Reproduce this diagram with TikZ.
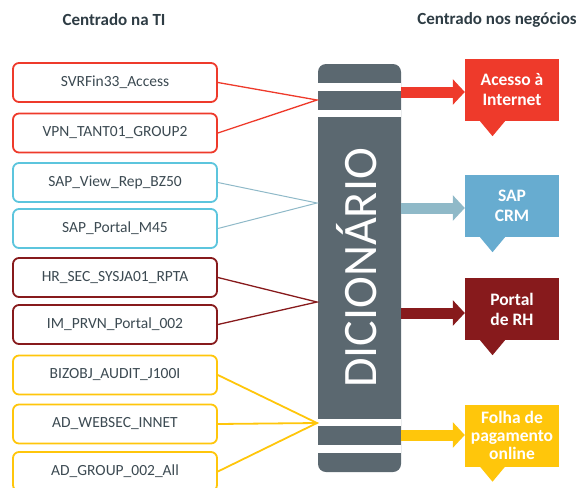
\documentclass[tikz,border=0pt]{standalone}
\usepackage{fontspec}
\setmainfont{Carlito}
\usetikzlibrary{calc,arrows.meta}
\definecolor{barcol}{HTML}{5B6870}
\definecolor{txtgray}{HTML}{3C4A52}
\definecolor{hdgray}{HTML}{2E3C44}
\definecolor{redc}{HTML}{EE3A2B}
\definecolor{cyanbox}{HTML}{5CC5DD}
\definecolor{cyanline}{HTML}{8FB9C8}
\definecolor{cyancall}{HTML}{67ACD0}
\definecolor{darkredc}{HTML}{871A1C}
\definecolor{yellowc}{HTML}{FFC60B}

\begin{document}
\begin{tikzpicture}[x=1pt,y=-1pt,
    tibox/.style={draw=#1, line width=1.8pt, rounded corners=6pt, fill=white,
      minimum width=204pt, minimum height=39pt, inner sep=0pt,
      text=txtgray, font=\fontsize{15.5}{17}\selectfont},
    bizbox/.style={fill=#1, text=white, minimum width=94pt, minimum height=62pt,
      inner sep=0pt, align=center, font=\bfseries\fontsize{17.5}{20}\selectfont},
    link/.style={draw=#1, line width=1.3pt},
    feed/.style={draw=#1, line width=11pt, -{Triangle[length=12pt,width=25pt]}},
    head/.style={font=\bfseries\fontsize{17}{19}\selectfont, text=hdgray}]
    \clip (0,0) rectangle (588,487);

    \node[head] (ti) at (114,20) {Centrado na TI};
    \node[head] (neg) at (497,20) {Centrado nos negócios};

    % dicionario
    \fill[barcol, rounded corners=8pt] (318,64) rectangle (401,472);
    \fill[white] (318,83) rectangle (401,91);
    \fill[white] (318,110) rectangle (401,117);
    \fill[white] (318,419) rectangle (401,426);
    \fill[white] (318,445) rectangle (401,453);
    \node[rotate=90, anchor=base, inner sep=0pt, text=white,
      font=\fontsize{48}{48}\selectfont] (dic) at (376,268) {DICIONÁRIO};

    \coordinate (inred) at (317,100);
    \coordinate (incyan) at (317,203);
    \coordinate (indark) at (317,302);
    \coordinate (inyel) at (317,423);
    \coordinate (outred) at (401,92);
    \coordinate (outcyan) at (401,208);
    \coordinate (outdark) at (401,313);
    \coordinate (outyel) at (401,435);

    % centrado na TI
    \node[tibox=redc] (svr) at (115,82.5) {SVRFin33\_Access};
    \node[tibox=redc] (vpn) at (115,133) {VPN\_TANT01\_GROUP2};
    \node[tibox=cyanbox] (sapview) at (115,182.5) {SAP\_View\_Rep\_BZ50};
    \node[tibox=cyanbox] (sapportal) at (115,228.5) {SAP\_Portal\_M45};
    \node[tibox=darkredc] (hrsec) at (115,277.5) {HR\_SEC\_SYSJA01\_RPTA};
    \node[tibox=darkredc] (imprvn) at (115,324.5) {IM\_PRVN\_Portal\_002};
    \node[tibox=yellowc] (bizobj) at (115,375) {BIZOBJ\_AUDIT\_J100I};
    \node[tibox=yellowc] (websec) at (115,424) {AD\_WEBSEC\_INNET};
    \node[tibox=yellowc] (adgroup) at (115,471.5) {AD\_GROUP\_002\_All};

    \draw[link=redc] (svr.east) -- (inred) -- (vpn.east);
    \draw[link=cyanline, line width=1pt] (sapview.east) -- (incyan) -- (sapportal.east);
    \draw[link=darkredc] (hrsec.east) -- (indark) -- (imprvn.east);
    \draw[link=yellowc, line width=1.8pt] (bizobj.east) -- (inyel) -- (adgroup.east);
    \draw[link=yellowc, line width=1.8pt] (websec.east) -- (inyel);

    % centrado nos negocios
    \node[bizbox=redc] (acesso) at (512,90) {Acesso à\\Internet};
    \node[bizbox=cyancall] (crm) at (512,206) {SAP\\CRM};
    \node[bizbox=darkredc] (rh) at (512,309) {Portal\\de RH};
    \node[bizbox=yellowc, font=\bfseries\fontsize{17.5}{18}\selectfont] (folha) at (512,435.5) {Folha de\\pagamento\\online};

    \fill[redc] ($(acesso.south)+(-32,0)$) -- ($(acesso.south)+(-7,0)$) -- ($(acesso.south)+(-19.5,15)$) -- cycle;
    \fill[cyancall] ($(crm.south)+(-32,0)$) -- ($(crm.south)+(-7,0)$) -- ($(crm.south)+(-19.5,15)$) -- cycle;
    \fill[darkredc] ($(rh.south)+(-32,0)$) -- ($(rh.south)+(-7,0)$) -- ($(rh.south)+(-19.5,15)$) -- cycle;
    \fill[yellowc] ($(folha.south)+(-32,0)$) -- ($(folha.south)+(-7,0)$) -- ($(folha.south)+(-19.5,15)$) -- cycle;

    \draw[feed=redc] (outred) -- (outred -| acesso.west);
    \draw[feed=cyanline] (outcyan) -- (outcyan -| crm.west);
    \draw[feed=darkredc] (outdark) -- (outdark -| rh.west);
    \draw[feed=yellowc] (outyel) -- (outyel -| folha.west);
\end{tikzpicture}
\end{document}
